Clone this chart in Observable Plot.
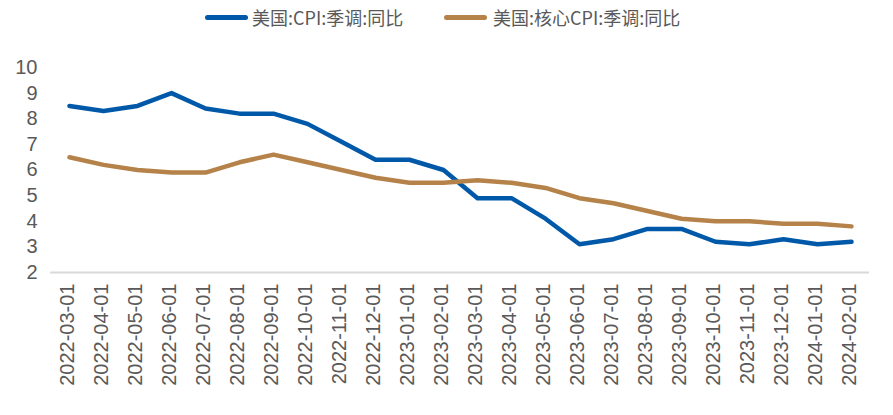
<!DOCTYPE html>
<html><head><meta charset="utf-8">
<script src="https://cdn.jsdelivr.net/npm/d3@7"></script>
<script src="https://cdn.jsdelivr.net/npm/@observablehq/plot@0.6"></script>
<style>
body{margin:0;background:#fff;}
#legend{position:relative;height:36px;width:893px;}
.sw{position:absolute;top:15px;width:43px;height:5px;border-radius:3px;}
.lt{position:absolute;top:5px;font-size:18px;font-family:"Noto Sans CJK SC",sans-serif;color:#595959;white-space:nowrap;line-height:24px;}
</style></head><body>
<div id="legend"></div><div id="chart"></div>
<script>
const dates = ["2022-03-01","2022-04-01","2022-05-01","2022-06-01","2022-07-01","2022-08-01","2022-09-01","2022-10-01","2022-11-01","2022-12-01","2023-01-01","2023-02-01","2023-03-01","2023-04-01","2023-05-01","2023-06-01","2023-07-01","2023-08-01","2023-09-01","2023-10-01","2023-11-01","2023-12-01","2024-01-01","2024-02-01"];
const cpi  = [8.5,8.3,8.5,9.0,8.4,8.2,8.2,7.8,7.1,6.4,6.4,6.0,4.9,4.9,4.1,3.1,3.3,3.7,3.7,3.2,3.1,3.3,3.1,3.2];
const core = [6.5,6.2,6.0,5.9,5.9,6.3,6.6,6.3,6.0,5.7,5.5,5.5,5.6,5.5,5.3,4.9,4.7,4.4,4.1,4.0,4.0,3.9,3.9,3.8];
const seriesNames = ["美国:CPI:季调:同比","美国:核心CPI:季调:同比"];
const colors = ["#0059a8","#b5834a"];
const yTicks = [2,3,4,5,6,7,8,9,10];

// legend
const legend = document.getElementById("legend");
const legendX = [[205,252],[444,493]];
seriesNames.forEach((name,i)=>{
  const sw = document.createElement("div");
  sw.className="sw"; sw.style.left=legendX[i][0]+"px"; sw.style.background=colors[i];
  legend.appendChild(sw);
  const t = document.createElement("div");
  t.className="lt"; t.style.left=legendX[i][1]+"px"; t.textContent=name;
  legend.appendChild(t);
});

const data = [];
dates.forEach((d,i)=>{ data.push({date:d,value:cpi[i],s:seriesNames[0]}); });
dates.forEach((d,i)=>{ data.push({date:d,value:core[i],s:seriesNames[1]}); });

const chart = Plot.plot({
  width:893, height:379,
  marginLeft:50, marginRight:24, marginTop:31, marginBottom:143,
  x:{type:"point", domain:dates, padding:0.5},
  y:{domain:[2,10]},
  color:{domain:seriesNames, range:colors},
  style:{fontFamily:"'Liberation Sans', Arial, sans-serif", color:"#595959", background:"#fff"},
  marks:[
    Plot.ruleY([2],{stroke:"#d9d9d9", strokeWidth:2}),
    Plot.axisY({ticks:yTicks, tickSize:0, tickPadding:13, fontSize:20, label:null}),
    Plot.axisX({tickRotate:-90, tickSize:0, tickPadding:11, fontSize:20, label:null, dx:-1.5}),
    Plot.line(data,{x:"date", y:"value", z:"s", stroke:"s", strokeWidth:4.5})
  ]
});
document.getElementById("chart").appendChild(chart);
</script>
</body></html>
